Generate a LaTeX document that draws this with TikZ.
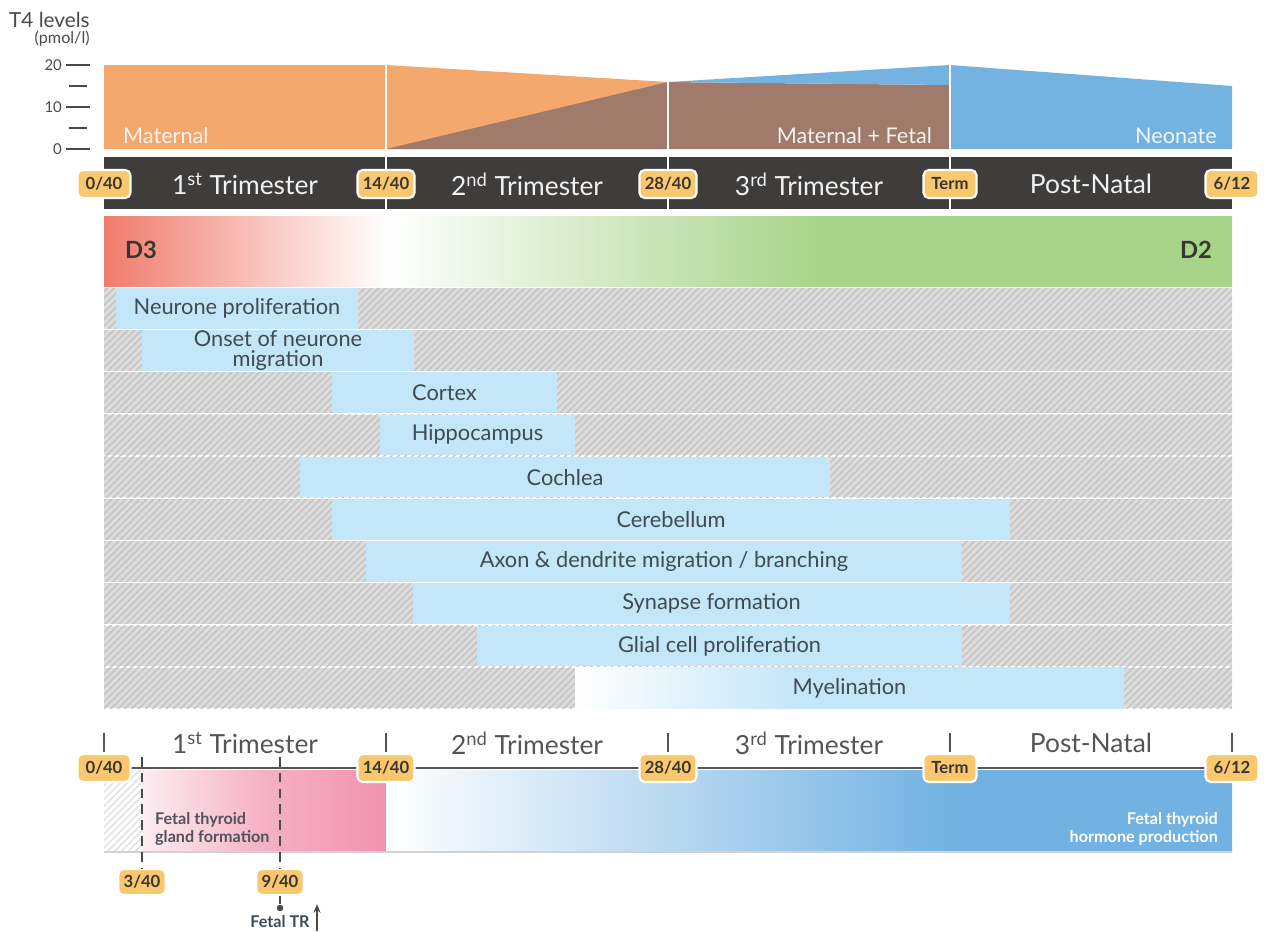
\documentclass[tikz,border=0pt]{standalone}
\usepackage{fontspec}
\setmainfont{Lato}
\usetikzlibrary{patterns.meta,arrows.meta}
\definecolor{orangeT}{HTML}{F4A86E}
\definecolor{brownT}{HTML}{A07A6A}
\definecolor{blueT}{HTML}{74B2E2}
\definecolor{darkband}{HTML}{3F3D3C}
\definecolor{badgeC}{HTML}{F9C86E}
\definecolor{badgeT}{HTML}{3A3530}
\definecolor{redT}{HTML}{F07C6C}
\definecolor{greenT}{HTML}{A8D48A}
\definecolor{barblue}{HTML}{C3E6F8}
\definecolor{labtext}{HTML}{3F4B52}
\definecolor{hatchbg}{HTML}{DCDCDC}
\definecolor{hatchln}{HTML}{C4C4C4}
\definecolor{pinkT}{HTML}{F292AE}
\definecolor{pinkL}{HTML}{FCEDF1}
\definecolor{blueB}{HTML}{72B2E2}
\definecolor{axgray}{HTML}{4A4A4A}
\definecolor{trigray}{HTML}{555555}
\pgfdeclarehorizontalshading{dband}{100bp}{color(0bp)=(redT); color(25bp)=(redT); color(37.5bp)=(white); color(56.7bp)=(greenT); color(100bp)=(greenT)}
\pgfdeclarehorizontalshading{bband}{100bp}{color(0bp)=(white); color(25bp)=(white); color(58.3bp)=(blueB); color(100bp)=(blueB)}
\pgfdeclarehorizontalshading{myel}{100bp}{color(0bp)=(white); color(25bp)=(white); color(45.5bp)=(barblue); color(100bp)=(barblue)}
\pgfdeclarehorizontalshading{pband}{100bp}{color(0bp)=(pinkL); color(25bp)=(pinkL); color(50bp)=(pinkT!72); color(75bp)=(pinkT); color(100bp)=(pinkT)}
\newcommand\devbar[5]{%
  \pgfmathsetmacro\bwid{(#3-#2)*0.02}%
  \node[bar, minimum width=\bwid cm, minimum height=0.81cm] (#1) at ({(#2+#3)/2},#4) {#5};}
\begin{document}
\begin{tikzpicture}[x=0.02cm,y=-0.02cm,
  hatch/.style={preaction={fill=hatchbg}, pattern={Lines[angle=45,distance=2.8pt,line width=0.9pt]}, pattern color=hatchln},
  hatchw/.style={preaction={fill=white}, pattern={Lines[angle=45,distance=2.8pt,line width=0.8pt]}, pattern color=gray!25},
  bar/.style={fill=barblue, inner sep=0pt, text=labtext, font=\fontsize{12.4}{11.2}\selectfont, align=center},
  badge/.style={fill=badgeC, draw=white, line width=1.2pt, rounded corners=3pt, text=badgeT,
    font=\bfseries\fontsize{9.5}{10}\selectfont, minimum height=0.56cm, minimum width=1.06cm, inner xsep=3pt, inner ysep=0pt},
  sbadge/.style={badge, minimum height=0.52cm, minimum width=0.94cm},
  toptri/.style={text=white!90!gray, font=\fontsize{15}{16}\selectfont},
  bottri/.style={text=trigray, font=\fontsize{15}{16}\selectfont},
  chartlab/.style={font=\fontsize{12.3}{13}\selectfont},
  axlab/.style={text=axgray, font=\fontsize{8.5}{9}\selectfont, inner sep=1pt},
  axtick/.style={draw=axgray, line width=1.1pt},
  btick/.style={draw=trigray, line width=1.1pt},
  dashln/.style={draw=axgray, line width=1.1pt, dash pattern=on 5.5pt off 3.5pt},
  ftext/.style={font=\bfseries\fontsize{9.2}{10.2}\selectfont},
  dlab/.style={text=badgeT, font=\bfseries\fontsize{13.5}{14}\selectfont}]
\useasboundingbox (0,0) rectangle (1264,931);

% ---- T4 chart ----
\node[anchor=east, inner sep=0pt, text=axgray, font=\fontsize{11.8}{12}\selectfont] (t4) at (90,20) {T4 levels};
\node[anchor=east, inner sep=0pt, text=axgray, font=\fontsize{9.2}{10}\selectfont] (unit) at (90,39) {(pmol/l)};
\node[axlab, anchor=east] (a20) at (64,65) {20};
\node[axlab, anchor=east] (a10) at (64,107) {10};
\node[axlab, anchor=east] (a0) at (64,149) {0};
\draw[axtick] (66,65) -- (90,65);
\draw[axtick] (69,86) -- (87,86);
\draw[axtick] (66,107) -- (90,107);
\draw[axtick] (69,128) -- (87,128);
\draw[axtick] (66,149) -- (90,149);

\fill[orangeT] (104,65) -- (386,65) -- (668,82) -- (668,149) -- (104,149) -- cycle;
\fill[brownT] (386,149) -- (668,82) -- (950,85) -- (950,149) -- cycle;
\fill[blueT] (668,82) -- (950,65) -- (950,85) -- cycle;
\fill[blueT] (950,65) -- (1232,86) -- (1232,149) -- (950,149) -- cycle;
\fill[darkband] (104,157) rectangle (1232,209);
\draw[white, line width=1.1pt] (386,65) -- (386,209);
\draw[white, line width=1.1pt] (668,82) -- (668,209);
\draw[white, line width=1.1pt] (950,65) -- (950,209);

\node[chartlab, anchor=west, text=white!88!orangeT] (mat) at (117,136) {Maternal};
\node[chartlab, anchor=east, text=white!90!brownT] (matfet) at (938,136) {Maternal + Fetal};
\node[chartlab, anchor=east, text=white!90!blueT] (neo) at (1223,136) {Neonate};

\node[toptri] (tt1) at (245,184) {1\textsuperscript{st} Trimester};
\node[toptri] (tt2) at (527,184) {2\textsuperscript{nd} Trimester};
\node[toptri] (tt3) at (809,184) {3\textsuperscript{rd} Trimester};
\node[toptri] (tt4) at (1091,184) {Post-Natal};
\node[badge] (b0) at (104,184) {0/40};
\node[badge] (b14) at (386,184) {14/40};
\node[badge] (b28) at (668,184) {28/40};
\node[badge] (bt) at (950,184) {Term};
\node[badge] (b6) at (1232,184) {6/12};

% ---- D3 / D2 band ----
\shade[shading=dband] (104,216) rectangle (1232,286);
\node[dlab] (d3lab) at (141,250) {D3};
\node[dlab] (d2lab) at (1196,250) {D2};

% ---- development rows ----
\foreach \i in {0,...,9} {
  \path[hatch] (104,{288+42.2*\i}) rectangle (1232,{328.5+42.2*\i});
}
\devbar{r1}{116}{358}{308.3}{Neurone proliferation}
\devbar{r2}{142}{414}{350.5}{Onset of neurone\\migration}
\devbar{r3}{332}{557}{392.7}{Cortex}
\devbar{r4}{380}{575}{434.9}{Hippocampus}
\devbar{r5}{300}{830}{477.1}{Cochlea}
\devbar{r6}{332}{1010}{519.3}{Cerebellum}
\devbar{r7}{366}{962}{561.5}{Axon \& dendrite migration / branching}
\devbar{r8}{413}{1010}{603.7}{Synapse formation}
\devbar{r9}{477}{962}{645.9}{Glial cell proliferation}
\shade[shading=myel] (575,667.8) rectangle (1124,708.3);
\node[bar, fill=none] (r10) at (849.5,688.1) {Myelination};

% ---- bottom timeline ----
\path[hatchw] (104,770) rectangle (142,852);
\shade[shading=pband] (142,770) rectangle (386,852);
\shade[shading=bband] (386,770) rectangle (1232,852);
\draw[gray!35, line width=1.1pt] (104,852) -- (1232,852);

\draw[btick] (104,733) -- (104,752);
\draw[btick] (386,733) -- (386,752);
\draw[btick] (668,733) -- (668,752);
\draw[btick] (950,733) -- (950,752);
\draw[btick] (1232,733) -- (1232,752);
\node[bottri] (bb1) at (245,743) {1\textsuperscript{st} Trimester};
\node[bottri] (bb2) at (527,743) {2\textsuperscript{nd} Trimester};
\node[bottri] (bb3) at (809,743) {3\textsuperscript{rd} Trimester};
\node[bottri] (bb4) at (1091,743) {Post-Natal};

\coordinate (la) at (104,768);
\coordinate (lb) at (1232,768);
\draw[draw=trigray, line width=1.6pt] (la) -- (lb);

\node[sbadge] (c3) at (142,882) {3/40};
\node[sbadge] (c9) at (280,882) {9/40};
\coordinate (t3) at (142,757);
\coordinate (t9) at (280,757);
\draw[dashln] (t3) -- (c3.north);
\draw[dashln] (t9) -- (c9.north);

\node[badge] (c0) at (104,768) {0/40};
\node[badge] (c14) at (386,768) {14/40};
\node[badge] (c28) at (668,768) {28/40};
\node[badge] (ct) at (950,768) {Term};
\node[badge] (c6) at (1232,768) {6/12};

\node[ftext, anchor=west, align=left, text=labtext!90!pinkT] (fg) at (149,829) {Fetal thyroid\\gland formation};
\node[ftext, anchor=east, align=right, text=white] (fh) at (1224,829) {Fetal thyroid\\hormone production};

\node[circle, fill=axgray, inner sep=0pt, minimum size=0.13cm] (dot) at (280,908) {};
\draw[draw=axgray, line width=1.1pt] (c9.south) -- (dot);
\node[ftext, text=labtext] (ftr) at (280,922) {Fetal TR};
\coordinate (arB) at (317,931);
\coordinate (arT) at (317,904);
\draw[draw=axgray, line width=1.1pt, -{Stealth[length=5pt,width=4pt]}] (arB) -- (arT);
\end{tikzpicture}
\end{document}
